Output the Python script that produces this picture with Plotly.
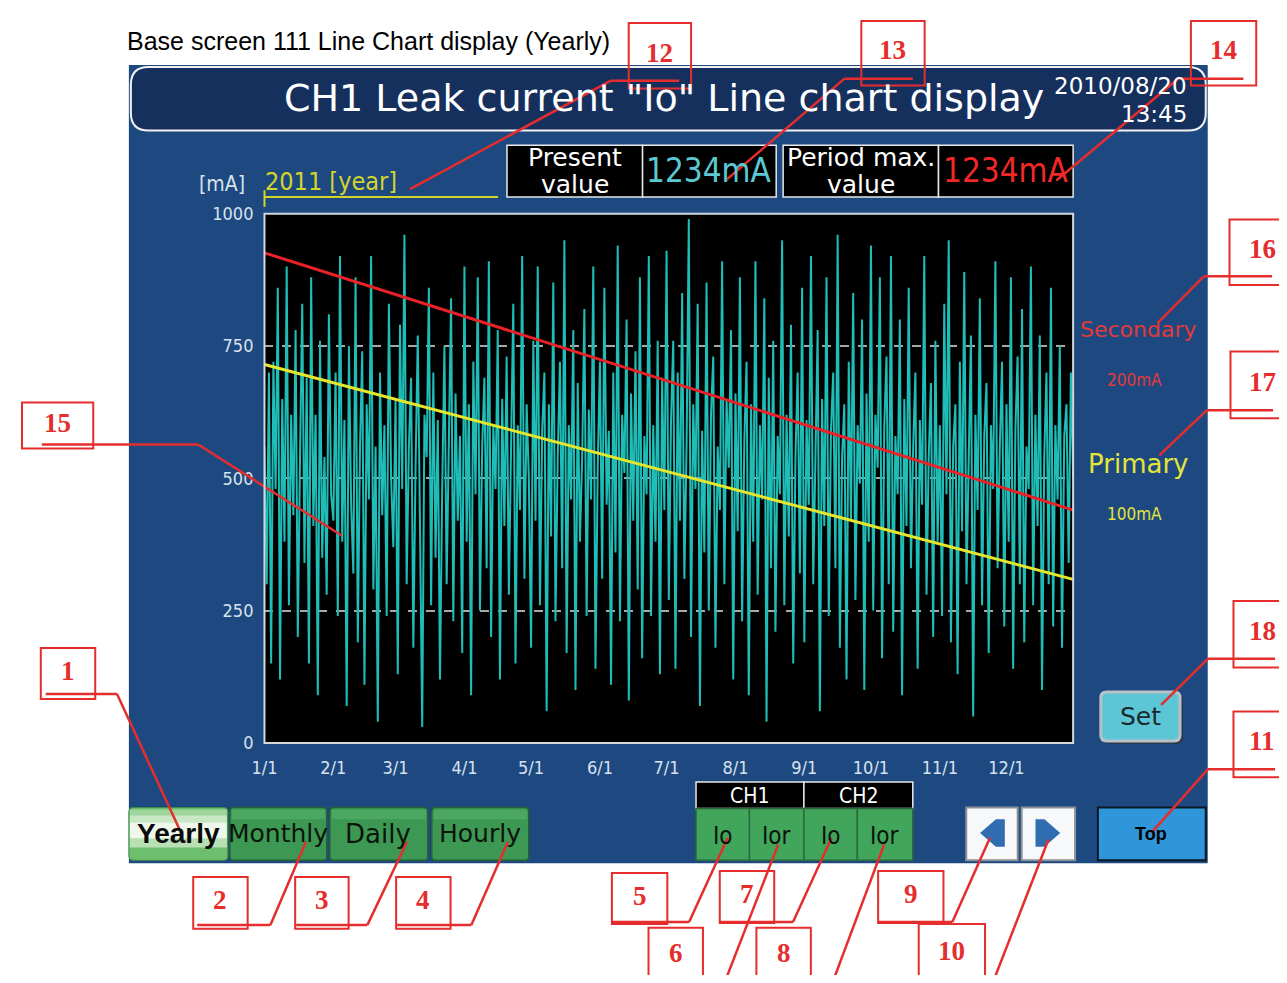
import plotly.graph_objects as go
import pandas as pd

# ---------------- data ----------------
month_labels = ["1/1", "2/1", "3/1", "4/1", "5/1", "6/1", "7/1", "8/1", "9/1", "10/1", "11/1", "12/1"]
month_starts = ["2011-%02d-01" % m for m in range(1, 13)]
y_ticks = [0, 250, 500, 750, 1000]

leak_current_ma = [
    # Jan
    560, 300, 700, 150, 720, 480, 860, 120, 650, 380, 900, 260, 620, 430, 780, 200, 540, 830, 340, 690,
    150, 880, 410, 620, 90, 760, 350, 540, 280, 810, 470,
    # Feb
    420, 700, 240, 920, 380, 610, 70, 750, 450, 320, 880, 190, 560, 740, 110, 640, 460, 920, 290, 560,
    40, 700, 430, 600, 240, 830, 500, 370,
    # Mar
    650, 130, 790, 480, 960, 300, 560, 690, 180, 520, 770, 410, 30, 620, 540, 860, 260, 700, 350, 610,
    120, 480, 750, 300, 570, 840, 230, 660, 420, 580, 170,
    # Apr
    900, 380, 640, 90, 720, 470, 880, 250, 560, 690, 330, 910, 200, 600, 480, 780, 120, 650, 410, 730,
    280, 560, 830, 150, 600, 440, 920, 310, 640, 500,
    # May
    180, 760, 420, 900, 260, 590, 700, 60, 640, 390, 870, 230, 540, 720, 330, 950, 170, 600, 460, 780,
    100, 680, 380, 540, 820, 240, 630, 460, 900, 140, 520,
    # Jun
    720, 310, 860, 450, 590, 110, 700, 360, 940, 230, 620, 510, 800, 80, 660, 420, 740, 290, 880, 160,
    580, 470, 920, 240, 600, 380, 760, 130, 690, 440,
    # Jul
    930, 270, 610, 760, 140, 700, 420, 850, 310, 560, 990, 200, 640, 480, 830, 70, 590, 360, 870, 250,
    620, 730, 180, 560, 440, 910, 300, 650, 520, 780, 120,
    # Aug
    660, 400, 880, 230, 570, 720, 90, 640, 380, 910, 280, 600, 460, 840, 40, 690, 330, 760, 210, 580,
    470, 950, 260, 620, 390, 790, 150, 540, 700, 320, 860,
    # Sep
    190, 610, 450, 920, 300, 570, 780, 60, 650, 410, 880, 240, 590, 700, 330, 960, 180, 540, 640, 120,
    720, 420, 850, 270, 600, 490, 800, 100, 660, 380,
    # Oct
    940, 250, 620, 520, 880, 160, 600, 730, 300, 920, 210, 580, 470, 800, 90, 650, 410, 860, 330, 560,
    700, 140, 610, 450, 920, 280, 540, 680, 200, 760, 380,
    # Nov
    600, 240, 830, 470, 950, 190, 560, 640, 130, 720, 400, 890, 300, 540, 770, 50, 620, 440, 840, 260,
    580, 680, 170, 600, 480, 910, 330, 560, 720, 220,
    # Dec
    640, 380, 880, 140, 590, 730, 300, 820, 190, 560, 480, 900, 260, 620, 410, 770, 100, 540, 700, 300,
    860, 220, 600, 460, 750, 180, 580, 640, 340, 700, 500,
]
line_dates = ["2011-01-01", "2011-12-31"]
secondary_line = [926, 440]   # red alarm line
primary_line = [715, 309]     # yellow alarm line

dates = pd.date_range("2011-01-01", periods=len(leak_current_ma), freq="D")

# ---------------- layout helpers (page pixel -> paper) ----------------
OFF = 8                      # default body margin of the page
W, H = 1287 - 2 * OFF, 983 - 2 * OFF
def X(p): return (p - OFF) / W
def Y(p): return 1 - (p - OFF) / H

shapes = []
annos = []

def rect(x0, y0, x1, y1, fill=None, line=None, lw=1, layer="below"):
    shapes.append(dict(type="rect", xref="paper", yref="paper",
                       x0=X(x0), x1=X(x1), y0=Y(y1), y1=Y(y0),
                       fillcolor=fill or "rgba(0,0,0,0)",
                       line=dict(color=line or "rgba(0,0,0,0)", width=lw if line else 0),
                       layer=layer))

def rrect(x0, y0, x1, y1, r, fill=None, line=None, lw=1, layer="below"):
    p = (f"M {X(x0+r)},{Y(y0)} L {X(x1-r)},{Y(y0)} Q {X(x1)},{Y(y0)} {X(x1)},{Y(y0+r)} "
         f"L {X(x1)},{Y(y1-r)} Q {X(x1)},{Y(y1)} {X(x1-r)},{Y(y1)} L {X(x0+r)},{Y(y1)} "
         f"Q {X(x0)},{Y(y1)} {X(x0)},{Y(y1-r)} L {X(x0)},{Y(y0+r)} Q {X(x0)},{Y(y0)} {X(x0+r)},{Y(y0)} Z")
    shapes.append(dict(type="path", xref="paper", yref="paper", path=p,
                       fillcolor=fill or "rgba(0,0,0,0)",
                       line=dict(color=line or "rgba(0,0,0,0)", width=lw if line else 0),
                       layer=layer))

def poly(pts, fill, layer="below"):
    p = "M " + " L ".join(f"{X(a)},{Y(b)}" for a, b in pts) + " Z"
    shapes.append(dict(type="path", xref="paper", yref="paper", path=p, fillcolor=fill,
                       line=dict(width=0), layer=layer))

def seg(pts, color, w, layer="above"):
    for (a, b), (c, d) in zip(pts[:-1], pts[1:]):
        shapes.append(dict(type="line", xref="paper", yref="paper",
                           x0=X(a), y0=Y(b), x1=X(c), y1=Y(d),
                           line=dict(color=color, width=w), layer=layer))

def text(x, y, s, size, color, family="DejaVu Sans", xanchor="center", bold=False):
    if bold:
        s = "<b>" + s + "</b>"
    annos.append(dict(xref="paper", yref="paper", x=X(x), y=Y(y), text=s, showarrow=False,
                      xanchor=xanchor, yanchor="middle",
                      font=dict(family=family, size=size, color=color)))

# ---------------- screen background ----------------
PANEL = "#1D4980"
rect(117, 55, 1207, 871, fill=PANEL)
rrect(119, 57, 1205, 122, 18, fill="#16305E", line="#F2F2F2", lw=2)
rect(254, 207, 1071, 748, fill="#000000")

# value boxes
rect(499, 137, 636, 190, fill="#000000", line="#E8E8E8", lw=1.5)
rect(636, 137, 771, 190, fill="#000000", line="#E8E8E8", lw=1.5)
rect(778, 137, 935, 190, fill="#000000", line="#E8E8E8", lw=1.5)
rect(935, 137, 1071, 190, fill="#000000", line="#E8E8E8", lw=1.5)

# year underline
seg([(254, 190), (490, 190)], "#D4D42A", 2, layer="below")
seg([(254, 183), (254, 200)], "#D4D42A", 2, layer="below")

# Set button
rrect(1102, 699, 1182, 749, 6, fill="#2A3A48")
rrect(1099, 696, 1179, 746, 6, fill="#5CC6D6", line="#B8C0C8", lw=3)

# period buttons
rrect(117, 814, 217, 868, 4, fill="#6DBE6D", line="#3E8A4A", lw=1)
rect(118, 816, 216, 822, fill="#9ED69E")
rect(118, 822, 216, 829, fill="#C8E8C5")
rect(118, 829, 216, 846, fill="#EEF7EC")
rect(118, 846, 216, 855, fill="#B8E0B4")
for x0, x1 in [(219, 317), (320, 419), (423, 521)]:
    rrect(x0, 814, x1, 868, 4, fill="#3C9853", line="#24603A", lw=1.5)
    rect(x0 + 2, 816, x1 - 2, 826, fill="#4AA862")

# CH1 / CH2 selectors
rect(690, 788, 799, 815, fill="#000000", line="#E8E8E8", lw=1.5)
rect(799, 788, 909, 815, fill="#000000", line="#E8E8E8", lw=1.5)
for x0, x1 in [(690, 744), (744, 799), (799, 853), (853, 909)]:
    rect(x0, 815, x1, 868, fill="#41A55B", line="#2A6A3C", lw=1.5)

# arrow buttons
for x0, x1 in [(963, 1015), (1019, 1073)]:
    rect(x0, 814, x1, 868, fill="#F6F8FA", line="#8A9096", lw=2)
poly([(977, 840), (993, 826), (1002, 826), (1002, 854), (993, 854)], "#2F6DB0")
poly([(1033, 826), (1042, 826), (1058, 840), (1042, 854), (1033, 854)], "#2F6DB0")

# Top button
rect(1096, 814, 1205, 868, fill="#2F96D9", line="#0E1822", lw=2)

# ---------------- texts ----------------
text(113, 30, "Base screen 111 Line Chart display (Yearly)", 25, "#000000",
     family="Liberation Sans", xanchor="left")
text(658, 89, 'CH1 Leak current "Io" Line chart display', 38, "#FFFFFF")
text(1188, 76, "2010/08/20", 23, "#FFFFFF", xanchor="right")
text(1188, 105, "13:45", 23, "#FFFFFF", xanchor="right")

text(211, 177, "[mA]", 21, "#D8E2EE", family="DejaVu Sans Condensed")
text(253, 174, "2011 [year]", 25, "#D4D42A", family="DejaVu Sans Condensed", xanchor="left")

text(568, 150, "Present", 25, "#FFFFFF")
text(568, 177, "value", 25, "#FFFFFF")
text(703, 163, "1234mA", 33, "#5CC8D2", family="DejaVu Sans Condensed")
text(857, 150, "Period max.", 25, "#FFFFFF")
text(857, 177, "value", 25, "#FFFFFF")
text(1003, 163, "1234mA", 33, "#F22828", family="DejaVu Sans Condensed")

text(1137, 325, "Secondary", 22, "#E03A3A")
text(1133, 377, "200mA", 17, "#E03A3A", family="DejaVu Sans Condensed")
text(1137, 463, "Primary", 26, "#E4E43C")
text(1133, 514, "100mA", 17, "#E4E43C", family="DejaVu Sans Condensed")
text(1139, 721, "Set", 25, "#1A2A30")

text(167, 841, "Yearly", 28, "#0A0A0A", family="Liberation Sans", bold=True)
text(268, 841, "Monthly", 25, "#0A140A")
text(369, 841, "Daily", 26, "#0A140A")
text(472, 841, "Hourly", 25, "#0A140A")

text(744, 802, "CH1", 21, "#FFFFFF", family="DejaVu Sans Condensed")
text(854, 802, "CH2", 21, "#FFFFFF", family="DejaVu Sans Condensed")
for xc, s in [(717, "Io"), (771, "Ior"), (826, "Io"), (880, "Ior")]:
    text(xc, 843, s, 24, "#0A140A", family="DejaVu Sans Condensed")
text(1150, 841, "Top", 18, "#000000", family="Liberation Sans", bold=True)

# ---------------- callouts ----------------
RED = "#E52D2D"
callouts = [
    ("1", (28, 651, 83, 703), [(33, 698), (105, 698), (168, 836)]),
    ("2", (182, 885, 237, 938), [(186, 934), (260, 934), (296, 849)]),
    ("3", (285, 885, 339, 938), [(286, 934), (358, 934), (398, 849)]),
    ("4", (387, 885, 442, 938), [(388, 934), (463, 934), (500, 849)]),
    ("5", (605, 881, 661, 933), [(605, 931), (683, 931), (722, 845)]),
    ("6", (642, 937, 697, 995), [(720, 990), (773, 852)]),
    ("7", (714, 879, 769, 932), [(714, 931), (788, 931), (827, 845)]),
    ("8", (751, 937, 806, 995), [(829, 990), (880, 852)]),
    ("9", (874, 879, 940, 932), [(874, 931), (949, 931), (987, 845)]),
    ("10", (915, 933, 982, 995), [(991, 990), (1046, 847)]),
    ("11", (1233, 716, 1295, 783), [(1275, 775), (1207, 775), (1150, 840)]),
    ("12", (622, 12, 685, 79), [(673, 71), (604, 71), (401, 182)]),
    ("13", (857, 10, 921, 76), [(909, 69), (840, 69), (720, 173)]),
    ("14", (1190, 10, 1256, 76), [(1243, 69), (1177, 69), (1054, 173)]),
    ("15", (9, 400, 81, 447), [(29, 443), (187, 443), (332, 536)]),
    ("16", (1229, 213, 1295, 280), [(1272, 271), (1203, 271), (1157, 318)]),
    ("17", (1230, 348, 1295, 416), [(1273, 408), (1206, 408), (1158, 454)]),
    ("18", (1233, 603, 1295, 671), [(1275, 662), (1207, 662), (1160, 709)]),
]
for label, (bx0, by0, bx1, by1), leader in callouts:
    rect(bx0, by0, bx1, by1, line=RED, lw=2, layer="above")
    seg(leader, RED, 2.5)
    cx = min((bx0 + bx1) / 2, 1262)
    cy = min((by0 + by1) / 2 - 3, 965)
    text(cx, cy, label, 27, RED, family="Liberation Serif", bold=True)

# plot frame
rect(254, 207, 1071, 748, line="#D4D8DC", lw=2, layer="above")

# ---------------- figure ----------------
fig = go.Figure()
fig.add_trace(go.Scatter(x=dates, y=leak_current_ma, mode="lines",
                         line=dict(color="#1FBDB8", width=2), hoverinfo="skip"))
fig.add_trace(go.Scatter(x=line_dates, y=secondary_line, mode="lines",
                         line=dict(color="#E82228", width=3), hoverinfo="skip"))
fig.add_trace(go.Scatter(x=line_dates, y=primary_line, mode="lines",
                         line=dict(color="#E6E62E", width=3), hoverinfo="skip"))

tick_font = dict(family="DejaVu Sans Condensed", size=18, color="#D8E2EE")
fig.update_layout(
    width=W, height=H, margin=dict(l=0, r=0, t=0, b=0),
    paper_bgcolor="#FFFFFF", plot_bgcolor="#000000",
    showlegend=False,
    xaxis=dict(domain=[X(254), X(1071)], type="date",
               range=["2011-01-01", "2011-12-31"],
               tickmode="array", tickvals=month_starts, ticktext=month_labels,
               showgrid=False, zeroline=False, showline=False, ticks="",
               tickfont=tick_font, ticklabelstandoff=12),
    yaxis=dict(domain=[Y(748), Y(207)], range=[0, 1000], autorange=False,
               tickmode="array", tickvals=y_ticks, ticktext=[str(v) for v in y_ticks],
               showgrid=True, gridcolor="#A8A8A8", griddash="dash", gridwidth=1.5,
               zeroline=False, showline=False, ticks="",
               tickfont=tick_font, ticklabelstandoff=10),
    shapes=shapes, annotations=annos,
)

fig.write_html("out.html", config={"displayModeBar": False})
